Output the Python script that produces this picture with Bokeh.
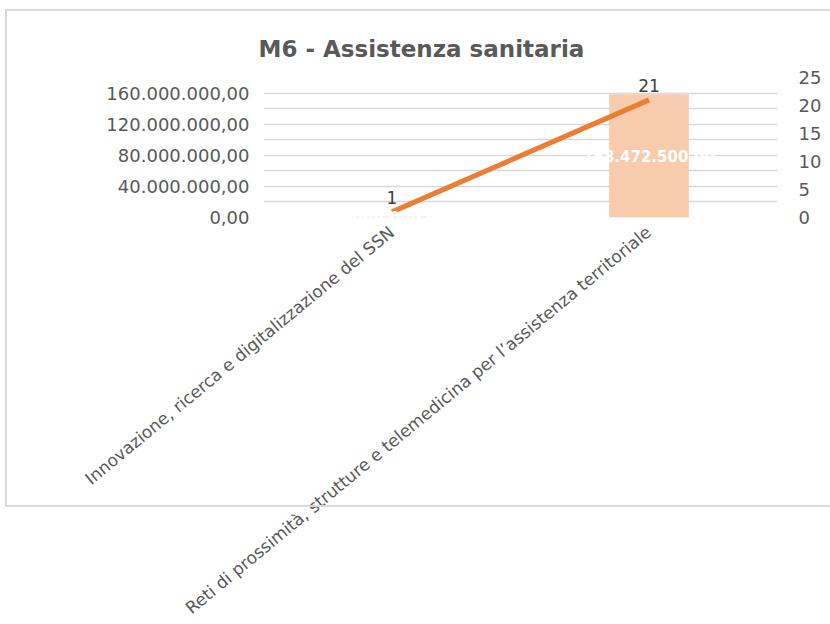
from bokeh.plotting import figure
from bokeh.models import (ColumnDataSource, LinearAxis, Range1d, FactorRange, FixedTicker,
                          LabelSet, Title, InlineStyleSheet)
from bokeh.core.properties import value
from bokeh.embed import file_html
from bokeh.resources import INLINE

categories = ["Innovazione, ricerca e digitalizzazione del SSN",
              "Reti di prossimità, strutture e telemedicina per l’assistenza territoriale"]
importi = [1000000.00, 158472500.00]
progetti = [1, 21]
left_ticks = [0, 40000000, 80000000, 120000000, 160000000]
minor_ticks = [20000000, 60000000, 100000000, 140000000, 180000000]
right_ticks = [0, 5, 10, 15, 20, 25]


def fmt_it(v):
    s = f"{v:,.2f}"
    return s.replace(",", "X").replace(".", ",").replace("X", ".")


FONT = "DejaVu Sans"
GRAY = "#595959"

src = ColumnDataSource(dict(
    cat=categories,
    imp=importi,
    imp_mid=[v / 2 for v in importi],
    imp_lbl=[fmt_it(v) for v in importi],
    n=progetti,
    n_lbl=[str(v) for v in progetti],
))

border_css = InlineStyleSheet(css="""
:host { position: relative; overflow: hidden !important; max-height: 624px !important; }
:host::before {
  content: ''; position: absolute; left: 5px; top: 9px; right: -20px; height: 494px;
  border-top: 2px solid #d9d9d9; border-left: 2px solid #d9d9d9;
  border-bottom: 2px solid #d9d9d9; pointer-events: none; z-index: 5;
}
""")

x_range = FactorRange(*categories, range_padding=0)
p = figure(x_range=x_range, y_range=Range1d(0, 180000000),
           width=830, height=624, output_backend="svg", toolbar_location=None,
           min_border_left=263, min_border_right=53,
           min_border_top=77, min_border_bottom=407)
p.frame_width = 514
p.frame_height = 140
p.outline_line_color = None
p.background_fill_color = "white"
p.stylesheets = [border_css]

title = Title(text="M6 - Assistenza sanitaria", align="left", offset=-5,
              text_font=FONT, text_font_size="23px", text_font_style="bold",
              text_color=GRAY, standoff=32)
p.add_layout(title, "above")

p.extra_y_ranges = {"right": Range1d(0, 25)}

p.vbar(x="cat", top="imp", width=0.31, source=src, color="#F8CBAD", line_color=None)
p.line(x="cat", y="n", source=src, y_range_name="right", line_color="#ED7D31",
       line_width=5)

# category axis (rotated labels)
xa = p.xaxis[0]
xa.axis_line_color = None
xa.major_tick_line_color = None
xa.minor_tick_line_color = None
xa.major_label_orientation = 0.69
xa.major_label_standoff = 6
xa.major_label_text_font = FONT
xa.major_label_text_font_size = "17px"
xa.major_label_text_color = GRAY

# left axis
ya = p.yaxis[0]
ya.ticker = FixedTicker(ticks=left_ticks, minor_ticks=minor_ticks)
ya.major_label_overrides = {t: fmt_it(t) for t in left_ticks}
ya.axis_line_color = None
ya.major_tick_line_color = None
ya.minor_tick_line_color = None
ya.major_label_standoff = 8
ya.major_label_text_font = FONT
ya.major_label_text_font_size = "18px"
ya.major_label_text_color = GRAY

p.ygrid.ticker = FixedTicker(ticks=left_ticks, minor_ticks=minor_ticks)
p.ygrid.grid_line_color = "#d9d9d9"
p.ygrid.minor_grid_line_color = "#d9d9d9"
p.ygrid.grid_line_width = 1.5
p.ygrid.minor_grid_line_width = 1.5
p.xgrid.grid_line_color = None

ra = LinearAxis(y_range_name="right", ticker=FixedTicker(ticks=right_ticks))
ra.axis_line_color = None
ra.major_tick_line_color = None
ra.minor_tick_line_color = None
ra.major_label_standoff = 15
ra.major_label_text_font = FONT
ra.major_label_text_font_size = "18px"
ra.major_label_text_color = GRAY
p.add_layout(ra, "right")

# bar value labels
p.add_layout(LabelSet(x="cat", y="imp_mid", text="imp_lbl", source=src,
                      text_align="center", text_baseline="middle",
                      text_font=value(FONT), text_font_size="15px", text_font_style="bold",
                      text_color="white"))
# line value labels
p.add_layout(LabelSet(x="cat", y="n", text="n_lbl", source=src, y_range_name="right",
                      text_align="center", text_baseline="bottom", y_offset=8,
                      text_font=value(FONT), text_font_size="17px", text_color="#404040"))

open("out.html", "w").write(file_html(p, INLINE))
